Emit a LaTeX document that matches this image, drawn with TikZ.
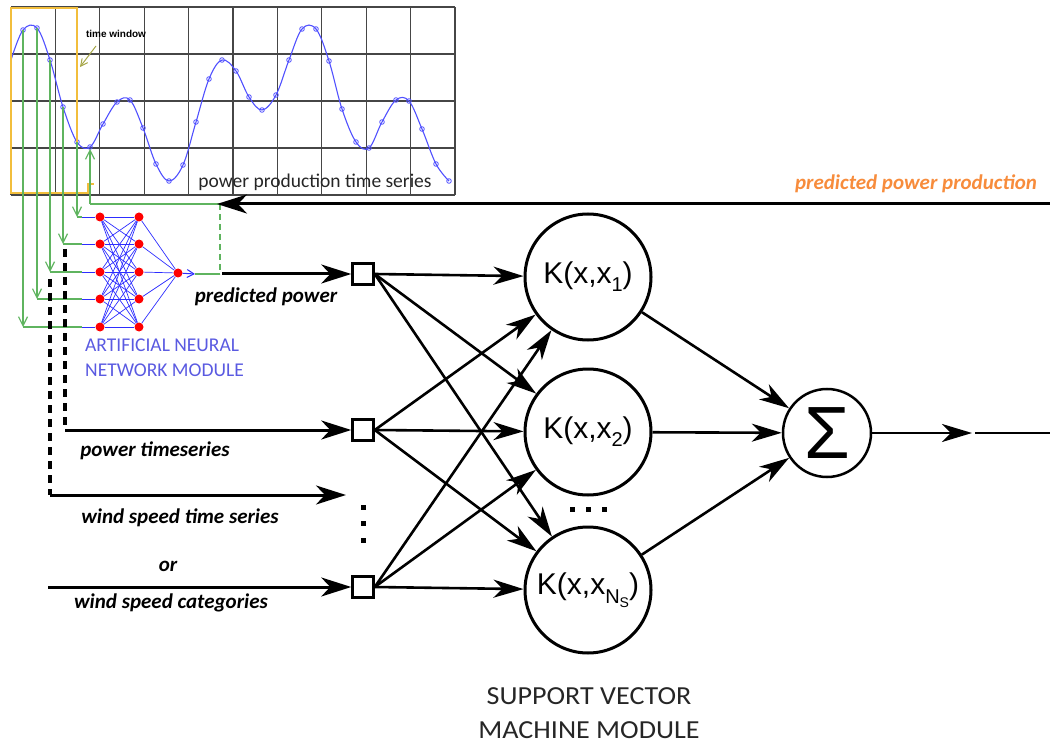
\documentclass[tikz,border=0pt]{standalone}
\usepackage{fontspec}
\setmainfont{Carlito}
\newfontfamily\helv{Liberation Sans}
\usetikzlibrary{arrows.meta}
\definecolor{gr}{RGB}{95,180,95}
\definecolor{cblue}{RGB}{80,80,255}
\definecolor{annblue}{RGB}{45,45,255}
\definecolor{txtblue}{RGB}{90,90,225}
\definecolor{ylw}{RGB}{242,190,60}
\definecolor{org}{RGB}{247,140,60}
\definecolor{gridc}{RGB}{70,70,70}
\definecolor{olive}{RGB}{165,165,70}
\begin{document}
\begin{tikzpicture}[x=1pt,y=-1pt,
  bigarr/.style={line width=3pt,-{Stealth[length=30pt,width=19pt,inset=9pt]}},
  midarr/.style={line width=2.6pt,-{Stealth[length=30pt,width=18pt,inset=9pt]}},
  grn/.style={gr,line width=1.2pt},
  grnarr/.style={gr,line width=1.2pt,-{Straight Barb[length=9pt,width=9pt]}},
  dsh/.style={line width=3.5pt,dash pattern=on 8pt off 6pt},
  sqbox/.style={draw,line width=2.5pt,minimum size=21pt,inner sep=0pt},
  kcirc/.style={circle,draw,line width=3pt,minimum size=126pt,inner sep=0pt},
  neuron/.style={circle,fill=red,inner sep=0pt,minimum size=9pt},
  dotsq/.style={fill=black,inner sep=0pt,minimum size=5pt},
  lbl/.style={font=\fontsize{21}{24}\selectfont\bfseries\itshape,inner sep=0pt},
  klbl/.style={font=\helv\fontsize{30}{32}\selectfont},
  modlbl/.style={inner sep=0pt,align=left}
]
\useasboundingbox (0,0) rectangle (1050,746);

% ---------- chart ----------
\foreach \i in {0,...,10} \draw[gridc,line width=1.2pt] ({11+\i*44.4},7) -- ({11+\i*44.4},195);
\foreach \j in {7,54,101,148,195} \draw[gridc,line width=1.2pt] (11,\j) -- (455,\j);

\foreach \x/\y [count=\i] in {23/30,37/28,50/60,63/107,77/142,90/147,103/124,117/102,130/100,143/128,156/164,169/181,183/165,196/122,209/79,222/60,236/71,249/97,262/110,276/95,289/60,302/29,316/29,329/61,342/109,356/142,369/148,382/122,396/100,409/101,422/129,436/164,449/181}
  \coordinate (d\i) at (\x,\y);

\draw[cblue,line width=1.1pt] plot[smooth,tension=0.6] coordinates {(11,60) (23,30) (37,28) (50,60) (63,107) (77,142) (90,147) (103,124) (117,102) (130,100) (143,128) (156,164) (169,181) (183,165) (196,122) (209,79) (222,60) (236,71) (249,97) (262,110) (276,95) (289,60) (302,29) (316,29) (329,61) (342,109) (356,142) (369,148) (382,122) (396,100) (409,101) (422,129) (436,164) (449,181)};
\foreach \i in {1,...,33} \draw[cblue,line width=0.8pt] (d\i) circle[radius=2.3pt];

% time window
\draw[ylw,line width=2pt] (11,8) rectangle (77,193);
\draw[ylw,line width=2pt] (77,193) -- (88,193) -- (88,184) -- (94,184);
\node[font=\helv\bfseries\fontsize{10}{12}\selectfont,inner sep=0pt] (tw) at (116,34) {time window};
\coordinate (twa) at (96,46);
\coordinate (twb) at (80,67);
\draw[olive,line width=1pt,-{Straight Barb[length=7pt,width=7pt]}] (twa) -- (twb);

\node[font=\fontsize{19.5}{22}\selectfont,text=black!85,inner sep=0pt] (pts) at (315,182) {power production time series};

% ---------- ANN ----------
\foreach \y [count=\n] in {217,244,272,299,327} {
  \node[neuron] (i\n) at (100,\y) {};
  \node[neuron] (h\n) at (139,\y) {};
  \coordinate (b\n) at (82,\y);
}
\node[neuron] (o) at (178,273) {};
\foreach \a in {1,...,5} {
  \foreach \b in {1,...,5} \draw[annblue,line width=0.7pt] (i\a) -- (h\b);
  \draw[annblue,line width=0.7pt] (h\a) -- (o);
  \draw[annblue,line width=0.7pt] (b\a) -- (i\a);
}

% green feeds from time window
\foreach \d/\n in {1/5,2/4,3/3,4/2,5/1} {
  \draw[grnarr] (d\d) -- (d\d |- i\n);
  \draw[grn] (d\d |- i\n) -- (b\n);
}
\coordinate (g1) at (90,204);
\coordinate (g2) at (220,204);
\coordinate (g3) at (220,274);
\coordinate (ob) at (195,274);
\draw[grnarr,shorten >=2pt] (g1) -- (d6);
\draw[grn] (g1) -- (g2);
\draw[grn,dashed,dash pattern=on 6pt off 4pt] (g2) -- (g3);
\draw[annblue,line width=1pt,-{Straight Barb[length=7pt,width=8pt]}] (o) -- (ob);
\draw[grn] (ob) -- (g3);

\node[modlbl,text=txtblue,font=\fontsize{19.5}{25}\selectfont,anchor=north west] (annl) at (85,339) {ARTIFICIAL NEURAL\\NETWORK MODULE};

% ---------- feedback arrow ----------
\coordinate (tr) at (1050,204);
\coordinate (tl) at (217,204);
\draw[bigarr] (tr) -- (tl);
\node[lbl,text=org] (ppp) at (916,184) {predicted power production};

% ---------- inputs ----------
\node[sqbox] (s1) at (363,274) {};
\node[sqbox] (s2) at (363,430) {};
\node[sqbox] (s3) at (363,587) {};
\node[dotsq] (v1) at (363,507) {};
\node[dotsq] (v2) at (363,523) {};
\node[dotsq] (v3) at (363,540) {};

\coordinate (pp) at (222,274);
\draw[bigarr] (pp) -- (s1.west);
\node[lbl] (lpp) at (266,297) {predicted power};

\coordinate (a1) at (65,249);
\coordinate (a2) at (65,430);
\draw[dsh] (a1) -- (a2);
\draw[bigarr] (a2) -- (s2.west);
\node[lbl] (lpt) at (155,451) {power timeseries};

\coordinate (c1) at (50,279);
\coordinate (c2) at (50,495);
\coordinate (c3) at (346,495);
\draw[dsh] (c1) -- (c2);
\draw[bigarr] (c2) -- (c3);
\node[lbl] (lws) at (180,518) {wind speed time series};

\coordinate (e1) at (48,587);
\draw[bigarr] (e1) -- (s3.west);
\node[lbl] (lor) at (168,566) {or};
\node[lbl] (lwc) at (171,603) {wind speed categories};

% ---------- SVM ----------
\node[kcirc,klbl] (k1) at (588,277) {K(x,x\raisebox{-8pt}{\fontsize{20}{20}\selectfont 1})};
\node[kcirc,klbl] (k2) at (588,432) {K(x,x\raisebox{-8pt}{\fontsize{20}{20}\selectfont 2})};
\node[kcirc,klbl] (k3) at (588,590) {K(x,x\raisebox{-9pt}{\fontsize{20}{20}\selectfont N\raisebox{-4pt}{\fontsize{14}{14}\selectfont S}})};
\node[dotsq] (hd1) at (572,509) {};
\node[dotsq] (hd2) at (588,509) {};
\node[dotsq] (hd3) at (604,509) {};

\foreach \s in {s1,s2,s3}
  \foreach \k in {k1,k2,k3}
    \draw[midarr] (\s.east) -- (\k);

\node[circle,draw,line width=2.5pt,minimum size=88pt,inner sep=0pt,font=\helv\fontsize{74}{74}\selectfont] (sig) at (827,433) {Σ};
\foreach \k in {k1,k2,k3} \draw[midarr] (\k) -- (sig);
\coordinate (out1) at (972,433);
\coordinate (out2) at (975,433);
\coordinate (out3) at (1050,433);
\draw[midarr] (sig) -- (out1);
\draw[line width=2.6pt] (out2) -- (out3);

\node[inner sep=0pt,align=center,font=\fontsize{26}{34}\selectfont,text=black!85] (svm) at (589,713) {\scalebox{1.08}[1]{SUPPORT VECTOR}\\\scalebox{1.08}[1]{MACHINE MODULE}};
\end{tikzpicture}
\end{document}
